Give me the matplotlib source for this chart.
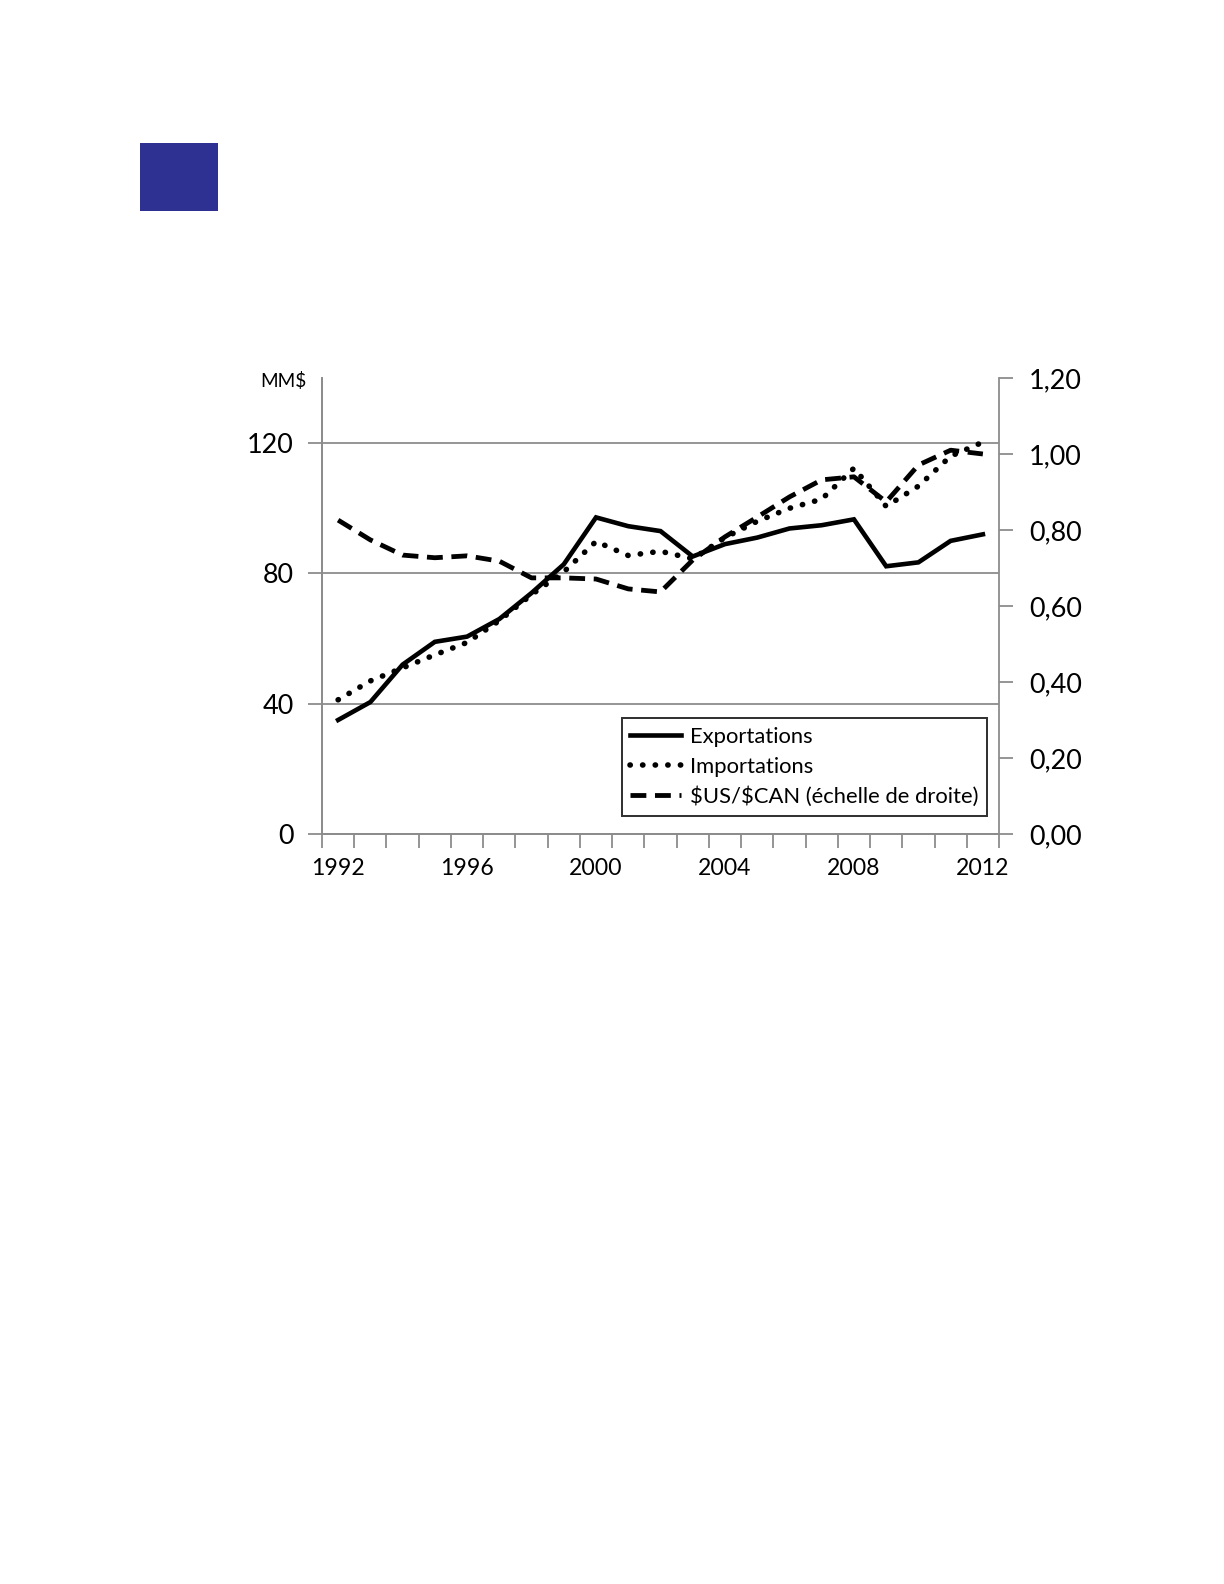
import matplotlib.pyplot as plt
from matplotlib.patches import Rectangle
from matplotlib.ticker import FixedLocator, FuncFormatter

plt.rcParams['font.family'] = ['Lato', 'DejaVu Sans']

annees = list(range(1992, 2013))
exportations = [35, 40.5, 52, 59, 60.6, 66, 74, 82.8, 97.2, 94.5, 93, 85.2, 89, 91,
                93.8, 94.8, 96.6, 82.2, 83.4, 90, 92]
importations = [41.2, 47, 51, 55, 58.8, 65.5, 73.5, 80.5, 89.8, 85.5, 86.8, 84.5, 91, 96,
                 100, 102.8, 112.3, 100.6, 106.8, 116, 120.3]
taux_change = [0.826, 0.774, 0.734, 0.727, 0.732, 0.718, 0.674, 0.674, 0.671, 0.645, 0.637,
               0.721, 0.782, 0.834, 0.887, 0.932, 0.94, 0.874, 0.971, 1.01, 1.0]
etiquettes_x = ['1992', '1996', '2000', '2004', '2008', '2012']

W, H = 1224, 1584
fig = plt.figure(figsize=(8.5, 11), dpi=144)

# carré bleu en haut à gauche
fig.patches.append(Rectangle((141 / W, 1 - 210 / H), 76 / W, 66 / H,
                             transform=fig.transFigure, color='#2E3192', zorder=0))

ax = fig.add_axes([322 / W, 1 - 834 / H, 677 / W, 456 / H])
ax2 = ax.twinx()

pos = list(range(len(annees)))
grey = '#8c8c8c'

l1, = ax.plot(pos, exportations, color='black', lw=2.3, solid_joinstyle='miter', zorder=3)
l2, = ax.plot(pos, importations, color='black', lw=2.8, linestyle=(0, (0.05, 2.2)),
              dash_capstyle='round', zorder=3)
l3, = ax2.plot(pos, taux_change, color='black', lw=2.4, linestyle=(0, (3.3, 1.8)), zorder=3)

ax.set_xlim(-0.5, len(annees) - 0.5)
ax.set_ylim(0, 140)
ax2.set_ylim(0, 1.2)

ax.set_yticks([0, 40, 80, 120])
ax.grid(axis='y', color=grey, lw=0.9)
ax.set_axisbelow(True)
ax2.set_yticks([0, 0.2, 0.4, 0.6, 0.8, 1.0, 1.2])
ax2.yaxis.set_major_formatter(FuncFormatter(lambda v, p: f'{v:.2f}'.replace('.', ',')))

# x : étiquettes aux années, petites graduations entre les catégories
ax.set_xticks([annees.index(int(a)) for a in etiquettes_x])
ax.set_xticklabels(etiquettes_x)
ax.xaxis.set_minor_locator(FixedLocator([i - 0.5 for i in range(len(annees) + 1)]))
ax.tick_params(axis='x', which='major', length=0, pad=12, labelsize=11.5)
ax.tick_params(axis='x', which='minor', length=7, color=grey, width=0.9)
ax.tick_params(axis='y', length=7, color=grey, width=0.9, labelsize=13.5, pad=7)
ax2.tick_params(axis='y', length=7, color=grey, width=0.9, labelsize=13.5, pad=8)

for a in (ax, ax2):
    a.spines['top'].set_visible(False)
    for s in ('left', 'right', 'bottom'):
        a.spines[s].set_color(grey)
        a.spines[s].set_linewidth(0.9)
ax.spines['right'].set_visible(False)

fig.text(260 / W, 1 - 381 / H, 'MM$', fontsize=9.5, va='center', ha='left')

leg = ax.legend([l1, l2, l3], ['Exportations', 'Importations', r'\$US/\$CAN (échelle de droite)'],
                loc='lower right', fontsize=11, frameon=True,
                fancybox=False, edgecolor='black', handlelength=2.3,
                borderpad=0.4, labelspacing=0.45, handletextpad=0.4, borderaxespad=0)
leg.get_frame().set_linewidth(1.0)
leg.set_bbox_to_anchor(((987 - 322) / 677, (834 - 816) / 456), transform=ax.transAxes)
leg.set_zorder(5)

fig.savefig('out.png', dpi=144)
